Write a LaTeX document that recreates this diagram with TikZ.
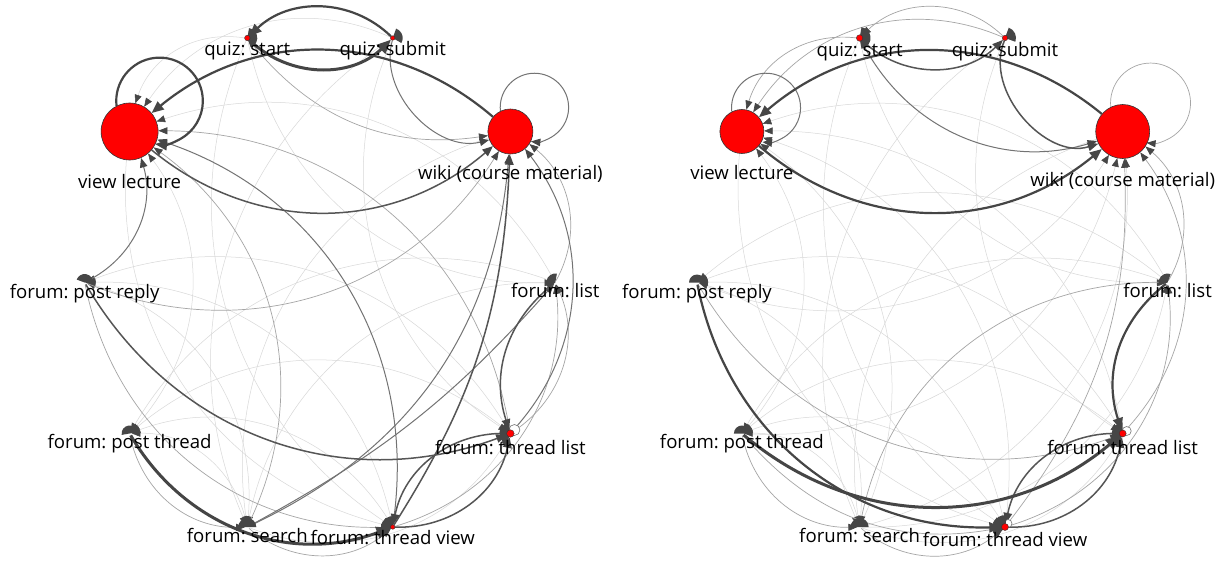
\documentclass[tikz,border=0pt]{standalone}
\usepackage{fontspec}
\setmainfont{Open Sans}
\usetikzlibrary{arrows.meta}
\definecolor{faintgray}{HTML}{D8D8D8}
\definecolor{thingray}{HTML}{A5A5A5}
\definecolor{midgray}{HTML}{737373}
\definecolor{stronggray}{HTML}{555555}
\definecolor{heavygray}{HTML}{454545}
\definecolor{tipgray}{HTML}{464646}
\definecolor{nodered}{HTML}{FF0000}
\pgfdeclarelayer{bg}
\pgfdeclarelayer{edges}
\pgfsetlayers{bg,edges,main}
\frenchspacing
% cluster of arrowheads converging on a small node: #1 node, #2..#3 angle range, #4 radius
\newcommand{\hubfan}[4]{\fill[tipgray] (#1.center) -- ++({-(#2)}:#4) arc[start angle={-(#2)}, end angle={-(#3)}, radius=#4] -- cycle;}
\begin{document}
\begin{tikzpicture}[x=1pt,y=-1pt,
  ea/.style={draw=faintgray, line width=0.5pt, -{Triangle[length=8.5pt,width=7pt,color=tipgray]}},
  eb/.style={draw=thingray, line width=0.7pt, -{Triangle[length=9pt,width=7pt,color=tipgray]}},
  ec/.style={draw=midgray, line width=1pt, -{Triangle[length=9.5pt,width=7.5pt,color=tipgray]}},
  ed/.style={draw=stronggray, line width=1.5pt, -{Triangle[length=10.5pt,width=8.5pt,color=tipgray]}},
  ee/.style={draw=heavygray, line width=2.2pt, -{Triangle[length=12pt,width=10pt,color=tipgray]}},
  ef/.style={draw=heavygray, line width=3pt, -{Triangle[length=14pt,width=12pt,color=tipgray]}},
  bignode/.style={circle, fill=nodered, draw=black!80, line width=0.6pt, inner sep=0pt},
  reddot/.style={circle, fill=nodered, draw=black!80, line width=0.4pt, inner sep=0pt, minimum size=#1},
  hub/.style={circle, inner sep=0pt, minimum size=4pt},
  loopring/.style={draw=midgray, line width=0.6pt, fill=white},
  lab/.style={font=\fontsize{18.6}{21}\selectfont, text=black, anchor=base, inner sep=0pt}
]
\begin{pgfonlayer}{bg}
  \fill[white] (0,0) rectangle (1222,560);
\end{pgfonlayer}
\useasboundingbox (0,0) rectangle (1222,560);

% ---------------- left network: nodes ----------------
\node[bignode, minimum size=57pt] (LVL) at (129.6,131.5) {};
\node[bignode, minimum size=45pt] (LWK) at (510.4,131.5) {};
\node[reddot=5.5pt] (LQS) at (247.3,38) {};
\node[reddot=4.5pt] (LQB) at (392.7,38) {};
\node[hub] (LPR) at (84.7,282.5) {};
\node[hub] (LLS) at (555.3,282.5) {};
\node[hub] (LPT) at (129.6,433.5) {};
\node[reddot=7.5pt] (LTL) at (510.4,433.5) {};
\node[hub] (LSR) at (247.3,527) {};
\node[reddot=4.5pt] (LTV) at (392.7,527) {};

% ---------------- right network: nodes ----------------
\node[bignode, minimum size=44pt] (RVL) at (741.9,131.5) {};
\node[bignode, minimum size=54pt] (RWK) at (1122.7,131.5) {};
\node[reddot=6.5pt] (RQS) at (859.6,38) {};
\node[reddot=5.5pt] (RQB) at (1005,38) {};
\node[hub] (RPR) at (697,282.5) {};
\node[hub] (RLS) at (1167.6,282.5) {};
\node[hub] (RPT) at (741.9,433.5) {};
\node[reddot=7pt] (RTL) at (1122.7,433.5) {};
\node[hub] (RSR) at (859.6,527) {};
\node[reddot=7pt] (RTV) at (1005,527) {};

\begin{pgfonlayer}{edges}
% ---- left: faint transitions
\draw[ea] (LQS) to[bend right=40] (LVL);
\draw[ea] (LQB) to[bend right=40] (LVL);
\draw[ea] (LPT) to[bend right=40] (LVL);
\draw[ea] (LLS) to[bend right=40] (LVL);
\draw[ea] (LLS) to[bend right=40] (LPT);
\draw[ea] (LTL) to[bend right=40] (LPT);
\draw[ea] (LSR) to[bend right=40] (LPT);
\draw[ea] (LTV) to[bend right=40] (LPT);
\draw[ea] (LTL) to[bend right=40] (LPR);
\draw[ea] (LSR) to[bend right=40] (LPR);
\draw[ea] (LTV) to[bend right=40] (LPR);
\draw[ea] (LSR) to[bend right=40] (LTL);
\draw[ea] (LWK) to[bend right=40] (LSR);
\draw[ea] (LLS) to[bend right=40] (LSR);
\draw[ea] (LQS) to[bend right=40] (LTV);
\draw[ea] (LQB) to[bend right=40] (LSR);
\draw[ea] (LVL) to[bend right=40] (LTV);
\draw[ea] (LQB) to[bend right=40] (LTL);
\draw[ea] (LQS) to[bend right=40] (LLS);
% ---- left: thin transitions
\draw[eb] (LQS) to[bend right=30] (LWK);
\draw[eb] (LSR) to[bend right=40] (LTV);
\draw[eb] (LSR) to[bend right=40] (LVL);
\draw[eb] (LTL) to[bend right=40] (LVL);
\draw[eb] (LPR) to[bend right=40] (LWK);
\draw[eb] (LPR) to[bend right=40] (LTV);
\draw[eb] (LTV) to[bend right=40] (LLS);
\draw[eb] (LTL) to[bend right=40] (LLS);
\draw[eb] (LLS) to[bend right=40] (LWK);
\draw[eb] (LPT) to[bend right=40] (LSR);
% ---- left: medium transitions
\draw[ec] (LQB) to[bend right=60] (LWK);
\draw[ec] (LPR) to[bend right=40] (LVL);
\draw[ec] (LSR) to[bend right=30] (LWK);
\draw[ec] (LSR) to[bend right=10] (LLS);
\draw[ec] (LTL) to[bend right=40] (LWK);
\draw[ec] (LTV) to[bend right=40] (LVL);
\draw[ec] (LWK.116) arc[start angle=174, end angle=456, radius=34.2];
% ---- left: strong transitions
\draw[ed] (LVL) to[bend right=40] (LWK);
\draw[ed] (LPR) to[bend right=40] (LTL);
\draw[ed] (LTV) to[bend right=15] (LWK);
\draw[ed] (LTL) to[bend right=40] (LTV);
\draw[ed] (LTV) to[bend right=40] (LTL);
\draw[ed] (LLS) to[bend right=35] (LTL);
% ---- left: heavy transitions
\draw[ee] (LQB) to[bend right=44] (LQS);
\draw[ee] (LWK) to[bend right=40] (LVL);
\draw[ee] (LVL.117) arc[start angle=173.5, end angle=456, radius=43.3];
\draw[ef] (LQS) to[bend right=44] (LQB);
\draw[ef] (LPT) to[bend right=40] (LTV);
\draw[loopring] (LTL.center) ++(4,-3.5) circle[radius=5.5];
% ---- left: arrowhead clusters at the small nodes
\hubfan{LQS}{-70}{80}{10}
\hubfan{LQB}{-30}{70}{10}
\hubfan{LPR}{-10}{160}{8.5}
\hubfan{LLS}{80}{220}{9}
\hubfan{LPT}{10}{190}{8}
\hubfan{LTL}{100}{250}{11}
\hubfan{LSR}{0}{180}{9}
\hubfan{LTV}{80}{220}{11}

% ---- right: faint transitions
\draw[ea] (RTV) to[bend right=40] (RVL);
\draw[ea] (RSR) to[bend right=40] (RVL);
\draw[ea] (RPT) to[bend right=40] (RVL);
\draw[ea] (RTL) to[bend right=40] (RVL);
\draw[ea] (RLS) to[bend right=40] (RVL);
\draw[ea] (RSR) to[bend right=40] (RWK);
\draw[ea] (RPR) to[bend right=40] (RWK);
\draw[ea] (RPT) to[bend right=40] (RWK);
\draw[ea] (RLS) to[bend right=40] (RPR);
\draw[ea] (RTL) to[bend right=40] (RPR);
\draw[ea] (RSR) to[bend right=40] (RPR);
\draw[ea] (RTV) to[bend right=40] (RPR);
\draw[ea] (RTL) to[bend right=40] (RPT);
\draw[ea] (RTV) to[bend right=40] (RPT);
\draw[ea] (RSR) to[bend right=40] (RPT);
\draw[ea] (RLS) to[bend right=40] (RPT);
\draw[ea] (RSR) to[bend right=40] (RTL);
\draw[ea] (RQS) to[bend right=40] (RTV);
\draw[ea] (RQB) to[bend right=40] (RSR);
\draw[ea] (RVL) to[bend right=40] (RTV);
\draw[ea] (RWK) to[bend right=40] (RSR);
\draw[ea] (RQS) to[bend right=40] (RLS);
\draw[ea] (RQB) to[bend right=40] (RTL);
\draw[ea] (RSR) to[bend right=40] (RLS);
% ---- right: thin transitions
\draw[eb] (RQB) to[bend right=44] (RQS);
\draw[eb] (RQS) to[bend right=40] (RVL);
\draw[eb] (RQB) to[bend right=40] (RVL);
\draw[eb] (RPR) to[bend right=40] (RTL);
\draw[eb] (RSR) to[bend right=40] (RTV);
\draw[eb] (RPT) to[bend right=40] (RSR);
\draw[eb] (RPT) to[bend right=30] (RTV);
\draw[eb] (RLS) to[bend right=40] (RSR);
\draw[eb] (RTL) to[bend right=40] (RWK);
\draw[eb] (RTV) to[bend right=20] (RWK);
\draw[eb] (RLS) to[bend right=40] (RWK);
\draw[eb] (RTV) to[bend right=40] (RLS);
\draw[eb] (RWK.116) arc[start angle=174.4, end angle=455.7, radius=40];
% ---- right: medium transitions
\draw[ec] (RQS) to[bend right=40] (RWK);
\draw[ec] (RVL.117) arc[start angle=173.5, end angle=456, radius=34.5];
% ---- right: strong transitions
\draw[ed] (RQS) to[bend right=44] (RQB);
\draw[ed] (RQB) to[bend right=65] (RWK);
\draw[ed] (RTL) to[bend right=40] (RTV);
\draw[ed] (RTV) to[bend right=40] (RTL);
% ---- right: heavy transitions
\draw[ee] (RWK) to[bend right=40] (RVL);
\draw[ee] (RVL) to[bend right=40] (RWK);
\draw[ee] (RPR) to[bend right=40] (RTV);
\draw[ee] (RLS) to[bend right=35] (RTL);
\draw[ef] (RPT) to[bend right=40] (RTL);
\draw[loopring] (RTL.center) ++(4,-2.5) circle[radius=4.5];
\draw[loopring] (RTV.center) ++(3,-3.5) circle[radius=4];
% ---- right: arrowhead clusters at the small nodes
\hubfan{RQS}{-80}{80}{11}
\hubfan{RQB}{-20}{70}{11}
\hubfan{RPR}{0}{180}{8}
\hubfan{RLS}{70}{200}{9}
\hubfan{RPT}{0}{180}{8}
\hubfan{RTL}{90}{250}{11}
\hubfan{RSR}{0}{180}{9}
\hubfan{RTV}{80}{230}{12}
\end{pgfonlayer}

% ---------------- labels ----------------
\node[lab] (tLQS) at (247.3,55) {quiz: start};
\node[lab] (tLQB) at (392.7,55) {quiz: submit};
\node[lab] (tLVL) at (129.6,188) {view lecture};
\node[lab] (tLWK) at (510.4,179) {wiki (course material)};
\node[lab] (tLPR) at (84.7,298) {forum: post reply};
\node[lab] (tLLS) at (555.3,297) {forum: list};
\node[lab] (tLPT) at (129.6,448) {forum: post thread};
\node[lab] (tLTL) at (510.4,454) {forum: thread list};
\node[lab] (tLSR) at (247.3,542) {forum: search};
\node[lab] (tLTV) at (392.7,544) {forum: thread view};

\node[lab] (tRQS) at (859.6,56) {quiz: start};
\node[lab] (tRQB) at (1005,56) {quiz: submit};
\node[lab] (tRVL) at (741.9,179) {view lecture};
\node[lab] (tRWK) at (1122.7,186) {wiki (course material)};
\node[lab] (tRPR) at (697,298) {forum: post reply};
\node[lab] (tRLS) at (1167.6,297) {forum: list};
\node[lab] (tRPT) at (741.9,448) {forum: post thread};
\node[lab] (tRTL) at (1122.7,454) {forum: thread list};
\node[lab] (tRSR) at (859.6,542) {forum: search};
\node[lab] (tRTV) at (1005,546) {forum: thread view};
\end{tikzpicture}
\end{document}
